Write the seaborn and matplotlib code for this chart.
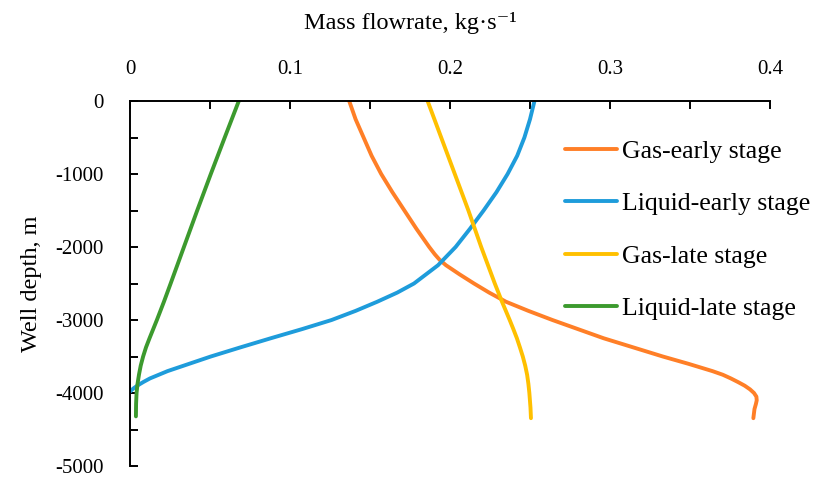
import numpy as np
import pandas as pd
import matplotlib
matplotlib.use("Agg")
import matplotlib.pyplot as plt
import seaborn as sns
from matplotlib.ticker import MultipleLocator

# ---- data ----
series_names = ["Gas-early stage", "Liquid-early stage", "Gas-late stage", "Liquid-late stage"]
series_colors = ["#FF7F27", "#1E9CDB", "#FFC000", "#3C9A2E"]

gas_early_depth = [0, -250, -500, -750, -1000, -1250, -1500, -1750, -2000, -2100, -2175,
                   -2250, -2375, -2500, -2625, -2750, -2875, -3000, -3125, -3250, -3375,
                   -3500, -3600, -3700, -3750, -3800, -3850, -3900, -3950, -4000, -4050,
                   -4100, -4150, -4220, -4345]
gas_early_flow = [0.137, 0.141, 0.146, 0.151, 0.157, 0.164, 0.1715, 0.179, 0.187, 0.1905, 0.1935,
                  0.1975, 0.206, 0.215, 0.2245, 0.235, 0.249, 0.264, 0.280, 0.296, 0.3145,
                  0.333, 0.349, 0.364, 0.3705, 0.3755, 0.3800, 0.3842, 0.3875, 0.3900, 0.3915,
                  0.3917, 0.3912, 0.3903, 0.3896]

liquid_early_depth = [0, -250, -500, -750, -1000, -1250, -1500, -1750, -2000, -2250, -2500,
                      -2625, -2750, -2875, -3000, -3125, -3250, -3375, -3500, -3600, -3700,
                      -3800, -3850, -3900, -3940, -3980]
liquid_early_flow = [0.2528, 0.2500, 0.2465, 0.2420, 0.2360, 0.2290, 0.2210, 0.2125, 0.2035,
                     0.1925, 0.1775, 0.1670, 0.1545, 0.1410, 0.1260, 0.1075, 0.0880, 0.0690,
                     0.0505, 0.0370, 0.0235, 0.0125, 0.0083, 0.0045, 0.0020, 0.0]

gas_late_depth = [0, -500, -1000, -1500, -2000, -2500, -2750, -3000, -3125, -3250, -3375,
                  -3500, -3625, -3750, -3875, -4000, -4200, -4345]
gas_late_flow = [0.186, 0.1945, 0.203, 0.2115, 0.2195, 0.228, 0.2325, 0.2373, 0.2396, 0.2418,
                 0.2437, 0.2455, 0.2470, 0.2482, 0.2490, 0.2496, 0.2503, 0.2506]

liquid_late_depth = [0, -500, -1000, -1500, -2000, -2500, -2750, -3000, -3125, -3250, -3375,
                     -3500, -3625, -3750, -3875, -4000, -4150, -4320]
liquid_late_flow = [0.068, 0.0592, 0.0505, 0.042, 0.0337, 0.0254, 0.0212, 0.0168, 0.0145, 0.0122,
                    0.0100, 0.0082, 0.0067, 0.0056, 0.0047, 0.0041, 0.0038, 0.0037]

x_ticks = [0, 0.1, 0.2, 0.3, 0.4]
x_tick_labels = ["0", "0.1", "0.2", "0.3", "0.4"]
y_ticks = [0, -1000, -2000, -3000, -4000, -5000]
y_tick_labels = ["0", "-1000", "-2000", "-3000", "-4000", "-5000"]

frames = []
for name, d, f in [(series_names[0], gas_early_depth, gas_early_flow),
                   (series_names[1], liquid_early_depth, liquid_early_flow),
                   (series_names[2], gas_late_depth, gas_late_flow),
                   (series_names[3], liquid_late_depth, liquid_late_flow)]:
    frames.append(pd.DataFrame({"depth": d, "flow": f, "series": name}))
df = pd.concat(frames, ignore_index=True)

# ---- styling ----
sns.set_style("white")
plt.rcParams["font.family"] = ["Liberation Serif", "DejaVu Serif"]
plt.rcParams["axes.unicode_minus"] = False
for k in ["text.color", "axes.labelcolor", "xtick.color", "ytick.color"]:
    plt.rcParams[k] = "black"
FS_TICK = 15
FS_LAB = 17.5
FS_LEG = 18.5

TOP, BOT = 101, 466
fig = plt.figure(figsize=(8.16, 4.8), dpi=100)
ax = fig.add_axes([130 / 816, 1 - BOT / 480, 640 / 816, (BOT - TOP) / 480])

LW = 2.8
sns.lineplot(data=df, x="flow", y="depth", hue="series", hue_order=series_names,
             palette=dict(zip(series_names, series_colors)), sort=False, estimator=None,
             units="series", linewidth=LW, ax=ax, legend=True)
for ln in ax.get_lines():
    ln.set_solid_capstyle("round")
    ln.set_solid_joinstyle("round")

ax.set_xlim(0, 0.4)
ax.set_ylim(-5000, 0)

ax.xaxis.tick_top()
ax.xaxis.set_label_position("top")
ax.set_xticks(x_ticks)
ax.set_xticklabels(x_tick_labels)
ax.set_yticks(y_ticks)
ax.set_yticklabels(y_tick_labels)
ax.xaxis.set_minor_locator(MultipleLocator(0.05))
ax.yaxis.set_minor_locator(MultipleLocator(500))

ax.tick_params(axis="x", which="both", direction="in", top=True, bottom=False,
               length=5.5, width=1.4, color="black", labelsize=FS_TICK, pad=16)
ax.tick_params(axis="y", which="both", direction="in", left=True, right=False,
               length=5.5, width=1.4, color="black", labelsize=FS_TICK, pad=19)

for side in ["right", "bottom"]:
    ax.spines[side].set_visible(False)
for side in ["top", "left"]:
    ax.spines[side].set_visible(True)
    ax.spines[side].set_linewidth(1.4)
    ax.spines[side].set_color("black")

ax.set_xlabel("Mass flowrate, kg\u00b7s\u207b\u00b9", fontsize=FS_LAB, va="center")
ax.xaxis.set_label_coords((410 - 130) / 640, (BOT - 23) / (BOT - TOP))
ax.set_ylabel("Well depth, m", fontsize=FS_LAB, va="center")
ax.yaxis.set_label_coords((31 - 130) / 640, 0.5)

sns.move_legend(ax, "center left", bbox_to_anchor=(544 / 816, 1 - 230 / 480),
                bbox_transform=fig.transFigure, frameon=False, title=None,
                fontsize=FS_LEG, handlelength=2.05, handletextpad=0.2, labelspacing=1.15,
                borderpad=0.3)
for h in ax.get_legend().get_lines():
    h.set_linewidth(LW)

fig.savefig("out.png", dpi=100)
